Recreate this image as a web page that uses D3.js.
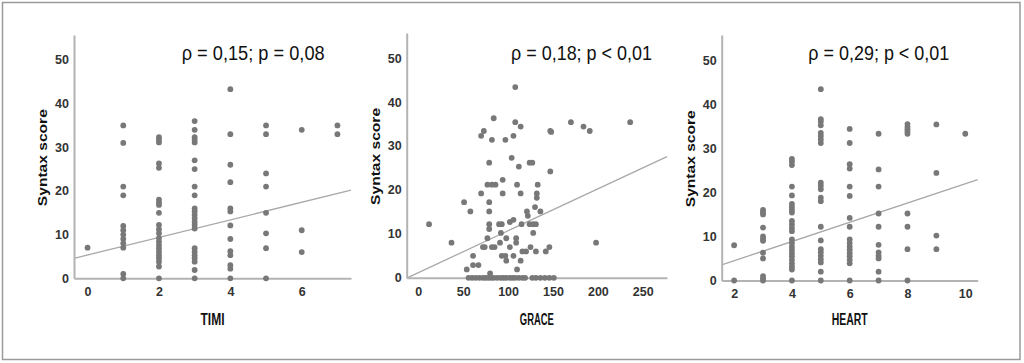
<!DOCTYPE html>
<html><head><meta charset="utf-8">
<script src="https://cdn.jsdelivr.net/npm/d3@7"></script>
<style>
html,body{margin:0;padding:0;background:#fff;}
svg{display:block;}
text{font-family:"Liberation Sans",Arial,sans-serif;}
</style></head>
<body>
<svg id="c" width="1024" height="363"></svg>
<script>
// ---------------- DATA ----------------
const titles = ["ρ = 0,15; p = 0,08", "ρ = 0,18; p < 0,01", "ρ = 0,29; p < 0,01"];
const xLabels = ["TIMI", "GRACE", "HEART"];
const yLabel = "Syntax score";
const yTicks = [0, 10, 20, 30, 40, 50];
const timiTicks = [0, 2, 4, 6];
const graceTicks = [0, 50, 100, 150, 200, 250];
const heartTicks = [2, 4, 6, 8, 10];

// TIMI: score values and Syntax scores observed at each score
const timiScores = [0, 1, 2, 3, 4, 5, 6, 7];
const timiSyntax = [
  [7],
  [35,31,21,19,12,11,10,9,8,7,1,0],
  [32.3,31.7,31.1,26.3,25.3,18,17.3,16.8,15,12.2,11.2,10.3,9.2,8.4,7.6,6.9,6.1,5.3,4.6,3.8,2.7,0],
  [36,34,32.3,31.7,31.1,27,25,21,19,16,15.3,14.5,13.7,12.9,12.2,11.4,6.9,6.1,5.3,4.6,3.8,1.9,0],
  [43.3,33,26,22,16,15.3,12.1,9,6.2,5.3,3,2.2,0],
  [35,33,24,21,15,10.3,6.9,0],
  [34,11,6],
  [35,33]
];

// GRACE: paired values
const graceX = [108,84,73,70,82,97,106,108,114,147,148,170,184,191,236,79,104,112,124,127,147,94,
  77,82,86,110,133,70,94,114,132,132,51,79,79,58,121,122,130,136,
  12,79,90,93,102,106,115,124,128,131,79,37,92,77,98,109,109,128,
  72,74,82,85,91,102,116,120,125,131,142,146,198,
  61,93,97,106,98,114,61,67,54,110,80,
  56,60,64,68,72,75,78,81,84,88,92,95,98,102,105,108,112,116,119,127,131,136,141,146,151];
const graceY = [43.4,36.3,33.4,32.3,31.4,31.4,32.3,35.4,34.4,33.4,33.2,35.4,34.4,33.4,35.4,26.2,27.3,25.3,26.2,26.2,24.2,22.3,
  21.2,21.2,21.2,21.2,21.2,19.2,19.2,19.2,19.2,18.2,17.2,17.2,15.1,15.1,15.1,14.1,16.1,15.1,
  12.2,12.2,12.2,12.2,12.7,13.2,12.2,12.2,12.2,12.2,11.1,8,10.2,9,9,9,8,10.2,
  7,7,7,7,8,7,6,6,7,6,6,7,8,
  5,5,5,5,3.9,3.9,2.9,2.9,1.9,1.9,1,
  0,0,0,0,0,0,0,0,0,0,0,0,0,0,0,0,0,0,0,0,0,0,0,0,0];

// HEART: score values and Syntax scores observed at each score
const heartScores = [2, 3, 4, 5, 6, 7, 8, 9, 10];
const heartSyntax = [
  [8,0],
  [16,15.5,15,12,10,9.4,9,6.3,5,1,0.5,0],
  [27.6,27,26.2,21.3,19.3,17.4,16.7,16,15.4,13.5,12.7,11.9,11.2,9.3,8.5,7.7,7,6.2,5.5,4.7,3.9,3.2,2.5,0],
  [43.4,36.6,36,35.2,33.5,32.8,32,31.2,22.2,21.5,20.7,18.8,18,12.2,9.1,7.1,6.4,5.6,4.8,4.1,2,0],
  [34.4,31.2,26.4,25.4,21.3,19.2,14.2,12.2,9.3,8.5,7.7,7,6.2,5.5,4.7,3.9,0],
  [33.3,25.2,21.3,15.2,12.2,8.1,6.4,5.6,5,2,0],
  [35.5,34.8,34.3,33.8,33.3,15.2,12.2,7.1,0],
  [35.4,24.4,10.2,7.1],
  [33.3]
];

// regression lines: intercept, slope
const fitIntercept = [5.34, 1.16, 0.13];
const fitSlope = [2.01, 0.0954, 2.18];

// axis domains
const xDomains = [[-0.38, 7.38], [-12.9, 277], [1.57, 10.43]];
const yDomain = [0, 55.7];

// ---------------- BUILD POINTS ----------------
function flatten(scores, cols) {
  const pts = [];
  scores.forEach((s, i) => cols[i].forEach(v => pts.push([s, v])));
  return pts;
}
const timiPts = flatten(timiScores, timiSyntax);
const gracePts = graceX.map((v, k) => [v, graceY[k]]);
const heartPts = flatten(heartScores, heartSyntax);

// ---------------- LAYOUT ----------------
const layout = [
  {x0: 74, x1: 351, y0: 278.3, y1: 35, tx: 181.7, ty: 60, tw: 143, lw: 24},
  {x0: 406.7, x1: 667, y0: 277.8, y1: 33, tx: 511, ty: 59.5, tw: 141, lw: 34},
  {x0: 721.7, x1: 977.7, y0: 280.5, y1: 35, tx: 808.3, ty: 60, tw: 141, lw: 36}
];
const datasets = [
  {pts: timiPts, ticks: timiTicks},
  {pts: gracePts, ticks: graceTicks},
  {pts: heartPts, ticks: heartTicks}
];

const svg = d3.select("#c");
svg.append("rect").attr("x", 2.5).attr("y", 2.5).attr("width", 1017.5).attr("height", 357)
  .attr("fill", "none").attr("stroke", "#9a9a9a").attr("stroke-width", 1.5);

const axisColor = "#b3b3b3";
const dotColor = "#787878";

datasets.forEach((ds, i) => {
  const L = layout[i];
  const x = d3.scaleLinear().domain(xDomains[i]).range([L.x0, L.x1]);
  const y = d3.scaleLinear().domain(yDomain).range([L.y0, L.y1]);
  const g = svg.append("g");

  // regression line
  const d0 = xDomains[i][0], d1 = xDomains[i][1];
  g.append("line")
    .attr("x1", x(d0)).attr("y1", y(fitIntercept[i] + fitSlope[i] * d0))
    .attr("x2", x(d1)).attr("y2", y(fitIntercept[i] + fitSlope[i] * d1))
    .attr("stroke", "#a8a8a8").attr("stroke-width", 1.3);

  // axes
  const ya = g.append("g").attr("transform", `translate(${L.x0},0)`)
    .call(d3.axisLeft(y).tickValues(yTicks).tickSize(0).tickPadding(5));
  const xa = g.append("g").attr("transform", `translate(0,${L.y0})`)
    .call(d3.axisBottom(x).tickValues(ds.ticks).tickSize(0).tickPadding(9));
  [ya, xa].forEach(a => {
    a.select(".domain").attr("stroke", axisColor).attr("stroke-width", 2);
    a.selectAll("text").attr("fill", "#333").attr("font-size", 12.5)
      .attr("font-weight", "bold").attr("font-family", "'Liberation Sans', Arial, sans-serif");
  });

  // points
  g.append("g").selectAll("circle").data(ds.pts).join("circle")
    .attr("cx", d => x(d[0])).attr("cy", d => y(d[1])).attr("r", 2.9).attr("fill", dotColor);

  // title
  g.append("text").attr("x", L.tx).attr("y", L.ty).attr("font-size", 20)
    .attr("fill", "#111").attr("textLength", L.tw).attr("lengthAdjust", "spacingAndGlyphs")
    .text(titles[i]);

  // x label
  g.append("text").attr("x", (L.x0 + L.x1) / 2 - L.lw / 2).attr("y", 324.5)
    .attr("font-size", 16).attr("font-weight", "bold").attr("fill", "#111")
    .attr("textLength", L.lw).attr("lengthAdjust", "spacingAndGlyphs").text(xLabels[i]);

  // y label
  const cy = (L.y0 + L.y1) / 2 + 1;
  g.append("text").attr("transform", `translate(${L.x0 - 27},${cy}) rotate(-90)`)
    .attr("text-anchor", "middle").attr("font-size", 13).attr("font-weight", "bold")
    .attr("fill", "#111").attr("textLength", 97).attr("lengthAdjust", "spacingAndGlyphs")
    .text(yLabel);
});
</script>
</body></html>
